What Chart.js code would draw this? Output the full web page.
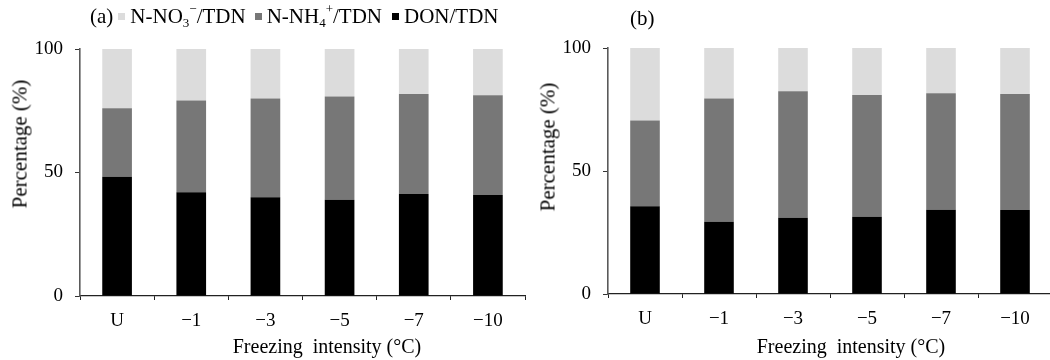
<!DOCTYPE html>
<html>
<head>
<meta charset="utf-8">
<script src="https://cdn.jsdelivr.net/npm/chart.js@4.4.1/dist/chart.umd.min.js"></script>
<style>
  html, body { margin:0; padding:0; width:1050px; height:360px; overflow:hidden; background:#fff; }
  body { position:relative; font-family:"Liberation Serif","Times New Roman",serif; color:#000; }
  canvas { position:absolute; top:0; }
  #cA { left:0; }
  #cB { left:530px; }
  .txt { position:absolute; white-space:nowrap; line-height:1; }
  .legend { position:absolute; left:90px; top:6px; font-size:21px; display:flex; align-items:center; white-space:nowrap; line-height:1; }
  .sw { display:inline-block; width:7px; height:7px; margin:0 5px 0 4px; }
  .legend sub, .legend sup { font-size:13px; line-height:0; position:relative; vertical-align:baseline; }
  .legend sub { top:6px; }
  .legend sup { top:-8px; }
  .ytitle { position:absolute; font-size:21px; transform:translate(-50%,-50%) rotate(-90deg); white-space:nowrap; }
  .xtitle { position:absolute; font-size:20px; transform:translate(-50%,-50%); white-space:nowrap; }
</style>
</head>
<body>
<canvas id="cA" width="530" height="360"></canvas>
<canvas id="cB" width="530" height="360"></canvas>

<div class="legend">(a)<span class="sw" style="background:#dcdcdc;margin-left:5px"></span>N-NO<sub>3</sub><sup>−</sup>/TDN<span class="sw" style="background:#777777;margin-left:9px"></span>N-NH<sub>4</sub><sup>+</sup>/TDN<span class="sw" style="background:#000;margin-left:10px"></span>DON/TDN</div>
<div class="txt" style="left:630px; top:8px; font-size:21px;">(b)</div>

<div class="ytitle" style="left:20px; top:144px;">Percentage (%)</div>
<div class="ytitle" style="left:548px; top:147px;">Percentage (%)</div>
<div class="xtitle" style="left:327px; top:346px;">Freezing&nbsp; intensity (°C)</div>
<div class="xtitle" style="left:851px; top:346px;">Freezing&nbsp; intensity (°C)</div>

<script>
const categories = ['U', '−1', '−3', '−5', '−7', '−10'];
const seriesNames = ['DON/TDN', 'N-NH4+/TDN', 'N-NO3−/TDN'];
// Panel (a)
const donA = [48.3, 42.0, 40.0, 39.0, 41.3, 40.9];
const nh4A = [27.7, 37.1, 40.0, 41.8, 40.5, 40.4];
const no3A = [24.0, 20.9, 20.0, 19.2, 18.2, 18.7];
// Panel (b)
const donB = [35.7, 29.4, 31.0, 31.4, 34.2, 34.1];
const nh4B = [34.8, 50.1, 51.4, 49.5, 47.4, 47.2];
const no3B = [29.5, 20.5, 17.6, 19.1, 18.4, 18.7];
const yTicks = [0, 50, 100];

const colors = ['#000000', '#777777', '#dcdcdc'];

function makeChart(id, don, nh4, no3, yWidth, xHeight, padTop, padRight) {
  const sets = [don, nh4, no3].map((d, i) => ({
    label: seriesNames[i],
    data: d,
    backgroundColor: colors[i],
    borderWidth: 0,
    categoryPercentage: 1.0,
    barPercentage: 0.4
  }));
  return new Chart(document.getElementById(id), {
    type: 'bar',
    data: { labels: categories, datasets: sets },
    options: {
      responsive: false,
      animation: false,
      devicePixelRatio: 1,
      layout: { padding: { top: padTop, right: padRight, left: 0, bottom: 0 } },
      plugins: { legend: { display: false }, tooltip: { enabled: false } },
      scales: {
        x: {
          stacked: true,
          offset: true,
          grid: { display: true, drawOnChartArea: false, drawTicks: true, tickLength: 4, tickColor: '#222', offset: true },
          border: { display: true, color: '#222', width: 1.2 },
          ticks: { color: '#000', padding: 10, font: { family: 'Liberation Serif', size: 19 }, maxRotation: 0 },
          afterFit: s => { s.height = xHeight; }
        },
        y: {
          stacked: true,
          min: yTicks[0],
          max: yTicks[yTicks.length - 1],
          afterBuildTicks: s => { s.ticks = yTicks.map(v => ({ value: v })); },
          grid: { display: true, drawOnChartArea: false, drawTicks: true, tickLength: 5, tickColor: '#333' },
          border: { display: true, color: '#5a5a5a', width: 1.6 },
          ticks: { color: '#000', padding: 12, font: { family: 'Liberation Serif', size: 19 } },
          afterFit: s => { s.width = yWidth; }
        }
      }
    }
  });
}

makeChart('cA', donA, nh4A, no3A, 80, 64, 49, 5);
makeChart('cB', donB, nh4B, no3B, 78, 66, 48, 8);
</script>
</body>
</html>
